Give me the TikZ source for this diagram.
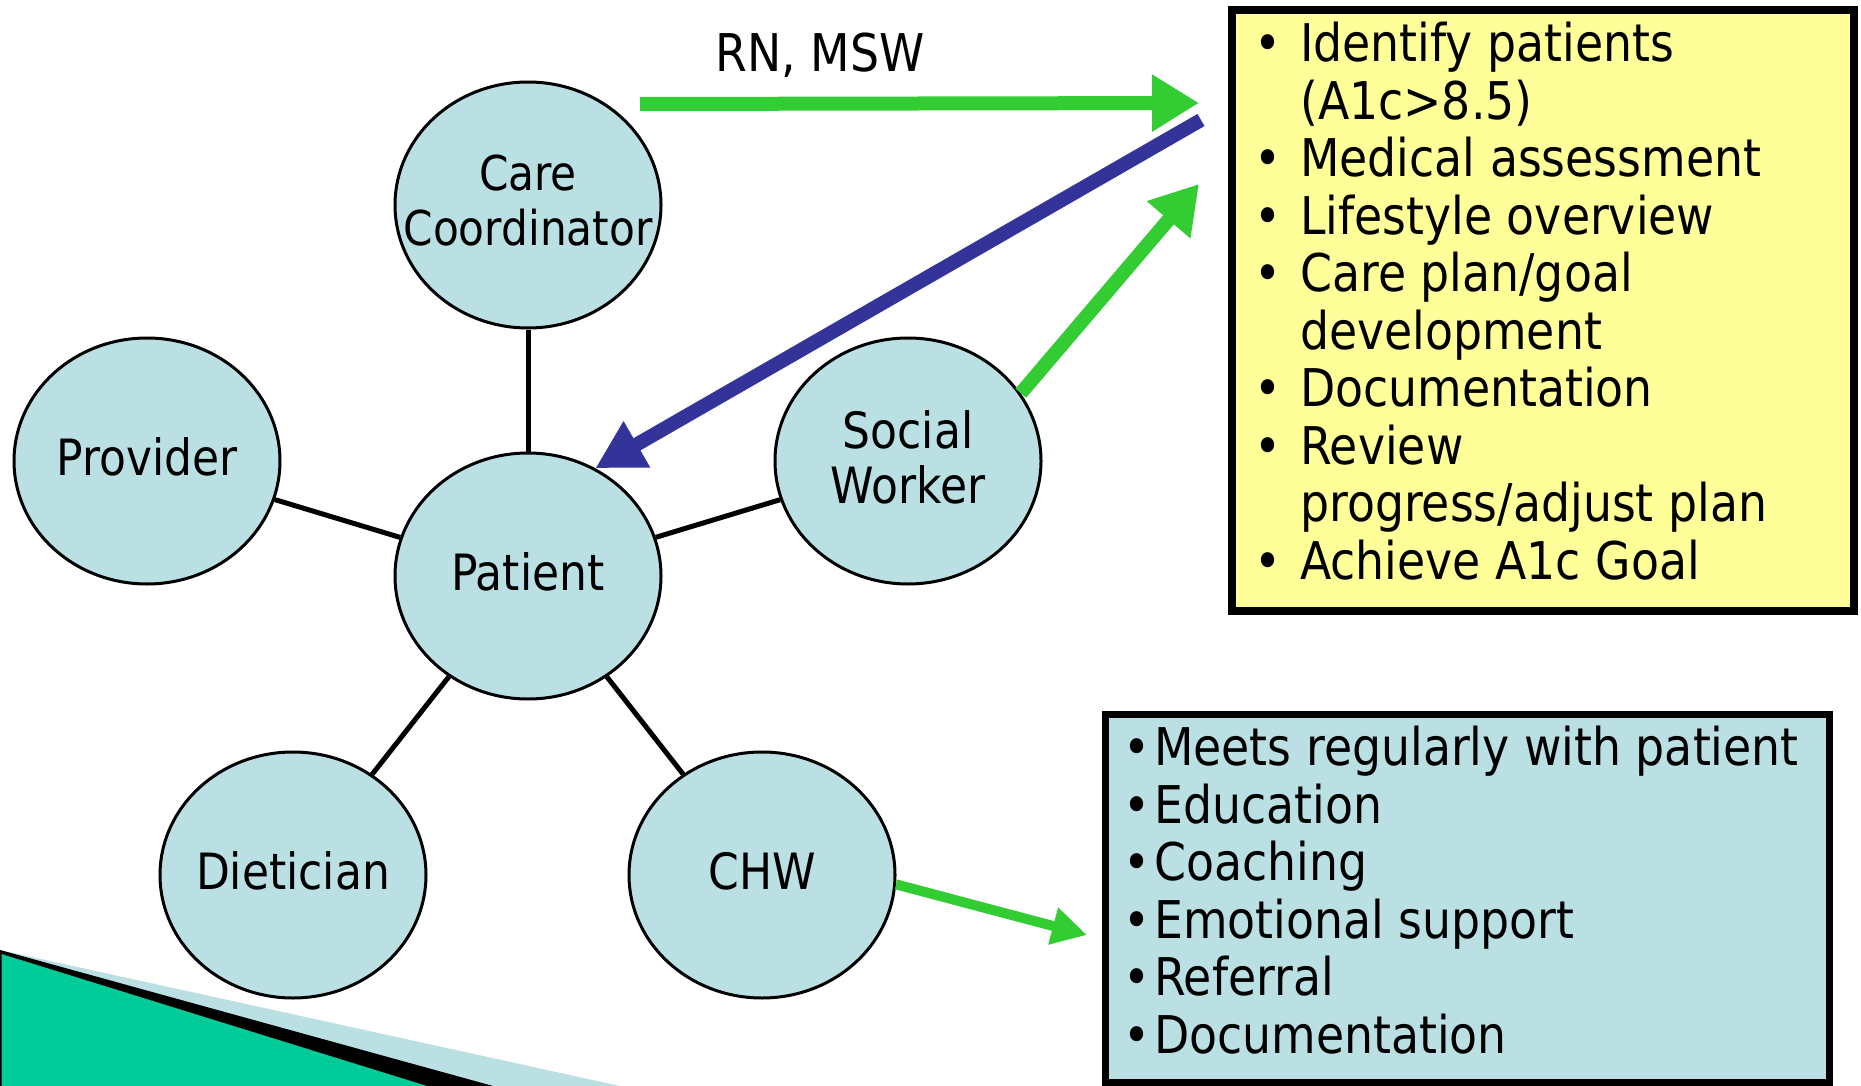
\documentclass[tikz,border=0pt]{standalone}
\usepackage{fontspec}
\setmainfont{DejaVu Sans}[FakeStretch=0.88]
\usepackage{xcolor}
\usetikzlibrary{arrows.meta, positioning, shapes.geometric}
\definecolor{teamblue}{RGB}{187,224,228}
\definecolor{goalyellow}{RGB}{255,255,153}
\definecolor{arrowgreen}{RGB}{51,204,51}
\definecolor{backblue}{RGB}{51,51,153}
\definecolor{cornergreen}{RGB}{0,204,153}
\tikzset{
  member/.style={ellipse, draw=black, line width=3pt, fill=teamblue, minimum width=266pt, minimum height=246pt, inner sep=0pt},
  memberlabel/.style={align=center, inner sep=0pt, yshift=4pt, font=\fontsize{50}{55}\selectfont},
  link/.style={line width=5pt, draw=black},
  goalbox/.style={rectangle, draw=black, line width=8pt, fill=goalyellow, anchor=north west, outer sep=0pt, minimum width=622pt, minimum height=601pt},
  chwbox/.style={rectangle, draw=black, line width=7pt, fill=teamblue, anchor=north west, outer sep=0pt, minimum width=724pt, minimum height=368pt},
  listtext/.style={anchor=base west, inner sep=0pt, font=\fontsize{52}{57.5}\selectfont},
  greenarrow/.style={-{Triangle[length=47pt, width=54pt]}, line width=14pt, draw=arrowgreen},
  bluearrow/.style={-{Triangle[length=48pt, width=50pt]}, line width=14pt, draw=backblue},
  thinarrow/.style={-{Triangle[length=35pt, width=36pt]}, line width=10pt, draw=arrowgreen}
}
\begin{document}
\begin{tikzpicture}[x=1pt, y=-1pt]
  \useasboundingbox (0,0) rectangle (1861,1086);
  \fill[white] (0,0) rectangle (1861,1086);

  % corner decoration
  \fill[teamblue] (0,950) -- (620,1086) -- (0,1086) -- cycle;
  \fill[black] (0,950) -- (493,1086) -- (0,1086) -- cycle;
  \fill[cornergreen] (1.5,954) -- (427,1086) -- (1.5,1086) -- cycle;

  % team around the patient
  \node[member, label={[memberlabel]center:Patient}] (patient) at (528,576) {};
  \node[member, label={[memberlabel, font=\fontsize{48}{55}\selectfont]center:Care\\Coordinator}] (carecoord) at (528,205) {};
  \node[member, label={[memberlabel]center:Provider}] (provider) at (147,461) {};
  \node[member, label={[memberlabel]center:Social\\Worker}] (social) at (908,461) {};
  \node[member, label={[memberlabel]center:Dietician}] (dietician) at (293,875) {};
  \node[member, label={[memberlabel]center:CHW}] (chw) at (762,875) {};

  \draw[link] (carecoord) -- (patient);
  \draw[link] (provider) -- (patient);
  \draw[link] (social) -- (patient);
  \draw[link] (dietician) -- (patient);
  \draw[link] (chw) -- (patient);

  % task boxes
  \node[goalbox] (goals) at (1232,10) {};
  \node[listtext] (goallist) at (1254.5,62) {%
    \begin{tabular}[t]{@{}l@{\hspace{18.5pt}}l@{}}
      \textbullet & Identify patients\\
                  & (A1c>8.5)\\
      \textbullet & Medical assessment\\
      \textbullet & Lifestyle overview\\
      \textbullet & Care plan/goal\\
                  & development\\
      \textbullet & Documentation\\
      \textbullet & Review\\
                  & progress/adjust plan\\
      \textbullet & Achieve A1c Goal
    \end{tabular}};

  \node[chwbox] (chwtasks) at (1105,714) {};
  \node[listtext] (chwlist) at (1123.5,765.5) {%
    \begin{tabular}[t]{@{}l@{\hspace{3.5pt}}l@{}}
      \textbullet & Meets regularly with patient\\
      \textbullet & Education\\
      \textbullet & Coaching\\
      \textbullet & Emotional support\\
      \textbullet & Referral\\
      \textbullet & Documentation
    \end{tabular}};

  % arrows
  \coordinate (rnstart) at (640,104);
  \coordinate (rnend) at (1199,103);
  \coordinate (backstart) at (1201,120);
  \coordinate (swend) at (1199,184);
  \coordinate (chwend) at (1087,935);

  \draw[greenarrow] (rnstart) -- (rnend);
  \node[listtext, anchor=base] (rnlabel) at (820,72) {RN, MSW};
  \draw[bluearrow] (backstart) -- (patient.58);
  \draw[greenarrow] (social.31) -- (swend);
  \draw[thinarrow] (chw.-4) -- (chwend);
\end{tikzpicture}
\end{document}
